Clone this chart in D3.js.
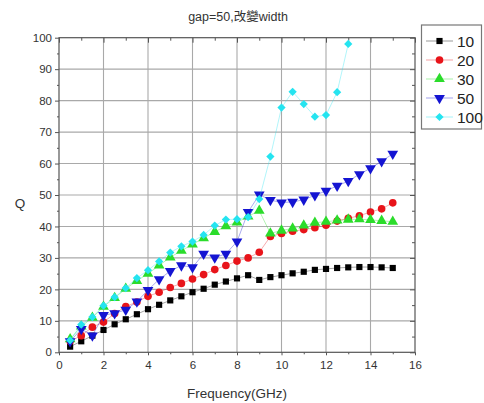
<!DOCTYPE html>
<html>
<head>
<meta charset="utf-8">
<script src="https://cdn.jsdelivr.net/npm/d3@7"></script>
<style>
  html, body { margin: 0; padding: 0; background: #fff; }
  svg { display: block; }
  text { font-family: "Liberation Sans", Arial, "Noto Sans CJK TC", sans-serif; }
</style>
</head>
<body>
<svg id="chart" width="484" height="403"></svg>
<script>
// Frequency sweep (GHz)
const freq = [0.5,1,1.5,2,2.5,3,3.5,4,4.5,5,5.5,6,6.5,7,7.5,8,8.5,9,9.5,10,10.5,11,11.5,12,12.5,13,13.5,14,14.5,15];

// Q factor per width
const q10  = [1.8,3.5,5.3,7.1,8.9,10.5,12.1,13.7,15.1,16.5,17.8,19.1,20.2,21.5,22.5,23.5,24.5,23.0,23.9,24.5,25.1,25.6,26.2,26.5,26.8,27.0,27.1,27.1,27.0,26.8];
const q20  = [3.5,5.3,8.0,9.6,12.3,14.5,16.0,17.8,19.1,20.6,21.9,23.3,24.7,26.3,27.6,29.0,30.0,31.8,36.8,37.8,38.5,39.0,39.6,40.4,41.7,42.6,43.4,44.6,45.6,47.5];
const q30  = [4.2,8.2,11.0,14.5,17.3,20.2,22.7,25.0,27.6,30.2,32.3,34.3,36.3,38.3,40.1,41.3,43.2,45.0,37.8,38.7,39.4,40.3,41.2,41.5,41.9,42.2,42.3,42.1,41.8,41.5];
const q50  = [3.5,7.4,5.3,11.8,12.4,13.5,16.1,19.8,23.2,25.8,27.6,27.0,31.3,30.1,31.3,35.2,44.6,50.1,48.4,47.6,47.8,48.5,49.9,51.3,52.9,54.4,56.6,58.5,60.7,63.1];
const q100 = [3.8,8.8,11.2,14.8,17.5,20.4,23.6,26.1,28.9,31.7,33.7,35.2,37.3,40.3,42.2,42.3,43.0,48.7,62.2,77.8,82.8,78.9,74.9,75.4,82.7,98.0];

const seriesNames = ["10","20","30","50","100"];
const seriesValues = [q10, q20, q30, q50, q100];
const seriesColors = ["#000000","#e8141a","#2bdc2b","#1414d2","#24e4f0"];
const seriesSymbols = ["square", "circle", "up", "down", "diamond"];

const xTicks = [0,2,4,6,8,10,12,14,16];
const yTicks = [0,10,20,30,40,50,60,70,80,90,100];

const title = "gap=50,改變width";
const xTitle = "Frequency(GHz)";
const yTitle = "Q";

const svg = d3.select("#chart");
const L = 59, R = 415, T = 37.7, B = 352.3;

const x = d3.scaleLinear().domain([0,16]).range([L,R]);
const y = d3.scaleLinear().domain([0,100]).range([B,T]);

// grid
const grid = svg.append("g").attr("stroke","#a9a9a9").attr("stroke-width",1.1);
xTicks.slice(1,-1).forEach(t => grid.append("line")
  .attr("x1",x(t)).attr("x2",x(t)).attr("y1",T).attr("y2",B));
yTicks.slice(1,-1).forEach(t => grid.append("line")
  .attr("x1",L).attr("x2",R).attr("y1",y(t)).attr("y2",y(t)));

// minor tick values
const xMinor = d3.range(1,16,2);
const yMinor = d3.range(5,100,10);

// bottom axis (outward ticks)
svg.append("g").attr("transform",`translate(0,${B})`)
  .call(d3.axisBottom(x).tickValues(xTicks).tickSize(3).tickPadding(6).tickFormat(d3.format("d")));
svg.append("g").attr("transform",`translate(0,${B})`)
  .call(d3.axisBottom(x).tickValues(xMinor).tickSize(2).tickFormat(""));
// left axis (outward ticks)
svg.append("g").attr("transform",`translate(${L},0)`)
  .call(d3.axisLeft(y).tickValues(yTicks).tickSize(4).tickPadding(3).tickFormat(d3.format("d")));
svg.append("g").attr("transform",`translate(${L},0)`)
  .call(d3.axisLeft(y).tickValues(yMinor).tickSize(2).tickFormat(""));
// top axis (inward ticks)
svg.append("g").attr("transform",`translate(0,${T})`)
  .call(d3.axisBottom(x).tickValues(xTicks).tickSize(5).tickFormat(""));
svg.append("g").attr("transform",`translate(0,${T})`)
  .call(d3.axisBottom(x).tickValues(xMinor).tickSize(3).tickFormat(""));
// right axis (inward ticks)
svg.append("g").attr("transform",`translate(${R},0)`)
  .call(d3.axisLeft(y).tickValues(yTicks).tickSize(5).tickFormat(""));
svg.append("g").attr("transform",`translate(${R},0)`)
  .call(d3.axisLeft(y).tickValues(yMinor).tickSize(3).tickFormat(""));

svg.selectAll(".domain").remove();
svg.selectAll(".tick line").attr("stroke","#555");
svg.selectAll(".tick text").attr("fill","#333").attr("font-size",11.5);

// frame
svg.append("rect").attr("x",L).attr("y",T).attr("width",R-L).attr("height",B-T)
  .attr("fill","none").attr("stroke","#555").attr("stroke-width",1.2);

// marker shapes: path + rotation
function marker(sym) {
  switch (sym) {
    case "square":  return { d: d3.symbol().type(d3.symbolSquare).size(38)(), rot: "" };
    case "circle":  return { d: d3.symbol().type(d3.symbolCircle).size(46)(), rot: "" };
    case "up":      return { d: d3.symbol().type(d3.symbolTriangle).size(50)(), rot: "" };
    case "down":    return { d: d3.symbol().type(d3.symbolTriangle).size(50)(), rot: " rotate(180)" };
    case "diamond": return { d: d3.symbol().type(d3.symbolSquare).size(34)(), rot: " rotate(45)" };
  }
}

const line = d3.line().x((d,i)=>x(freq[i])).y(d=>y(d));

seriesValues.forEach((vals, s) => {
  const g = svg.append("g");
  g.append("path").attr("d", line(vals)).attr("fill","none")
    .attr("stroke", seriesColors[s]).attr("stroke-width",0.8).attr("stroke-opacity",0.45);
  const m = marker(seriesSymbols[s]);
  g.selectAll("path.pt").data(vals).enter().append("path").attr("class","pt")
    .attr("d", m.d)
    .attr("transform",(d,i)=>`translate(${x(freq[i])},${y(d)})${m.rot}`)
    .attr("fill", seriesColors[s]);
});

// titles
svg.append("text").attr("x",238).attr("y",21).attr("text-anchor","middle")
  .attr("font-size",12.5).attr("fill","#333").text(title);
svg.append("text").attr("x",237).attr("y",398).attr("text-anchor","middle")
  .attr("font-size",13.5).attr("fill","#333").text(xTitle);
svg.append("text").attr("x",20).attr("y",208).attr("text-anchor","middle")
  .attr("font-size",13.5).attr("fill","#333").text(yTitle);

// legend
const lg = svg.append("g");
lg.append("rect").attr("x",421.5).attr("y",25).attr("width",60).attr("height",104)
  .attr("fill","#fff").attr("stroke","#777").attr("stroke-width",1.2);
seriesNames.forEach((n, s) => {
  const cy = 41 + s*19;
  lg.append("line").attr("x1",426).attr("x2",453).attr("y1",cy).attr("y2",cy)
    .attr("stroke",seriesColors[s]).attr("stroke-width",0.8).attr("stroke-opacity",0.5);
  const m = marker(seriesSymbols[s]);
  lg.append("path").attr("d", m.d)
    .attr("transform",`translate(439.5,${cy})${m.rot}`).attr("fill",seriesColors[s]);
  lg.append("text").attr("x",457).attr("y",cy+5.5).attr("font-size",15.5)
    .attr("fill","#222").text(n);
});
</script>
</body>
</html>
